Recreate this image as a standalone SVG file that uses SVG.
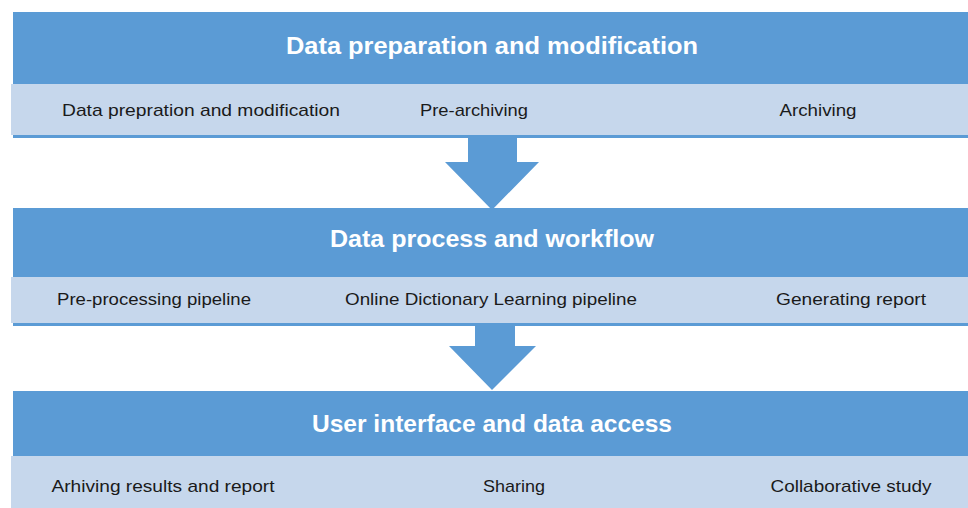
<svg xmlns="http://www.w3.org/2000/svg" width="968" height="508" viewBox="0 0 968 508">
<style>
.dark{fill:#5B9BD5}
.light{fill:#C6D7EC}
.line{fill:#5B9BD5}
.title{font-family:"Liberation Sans",Arial,sans-serif;font-weight:bold;font-size:24px;fill:#FFFFFF;text-anchor:middle}
.lbl{font-family:"Liberation Sans",Arial,sans-serif;font-size:17px;fill:#1a1a1a;text-anchor:middle}
.arrow{fill:#5B9BD5}
</style>
<rect width="968" height="508" fill="#FFFFFF"/>
<g id="stage1">
<rect class="dark" x="13" y="12" width="955" height="72"/>
<rect class="light" x="11" y="84" width="957" height="51"/>
<rect class="line" x="13" y="135" width="955" height="3"/>
<text class="title" x="492" y="54" textLength="412" lengthAdjust="spacingAndGlyphs">Data preparation and modification</text>
<text class="lbl" x="201" y="116" textLength="278" lengthAdjust="spacingAndGlyphs">Data prepration and modification</text>
<text class="lbl" x="474" y="116" textLength="108" lengthAdjust="spacingAndGlyphs">Pre-archiving</text>
<text class="lbl" x="818" y="116" textLength="77" lengthAdjust="spacingAndGlyphs">Archiving</text>
</g>
<g id="stage2">
<rect class="dark" x="13" y="208" width="955" height="69"/>
<rect class="light" x="11" y="277" width="957" height="46"/>
<rect class="line" x="13" y="323" width="955" height="3"/>
<text class="title" x="492" y="247" textLength="324" lengthAdjust="spacingAndGlyphs">Data process and workflow</text>
<text class="lbl" x="154" y="305" textLength="194" lengthAdjust="spacingAndGlyphs">Pre-processing pipeline</text>
<text class="lbl" x="491" y="305" textLength="292" lengthAdjust="spacingAndGlyphs">Online Dictionary Learning pipeline</text>
<text class="lbl" x="851" y="305" textLength="150" lengthAdjust="spacingAndGlyphs">Generating report</text>
</g>
<g id="stage3">
<rect class="dark" x="13" y="391" width="955" height="65"/>
<rect class="light" x="11" y="456" width="957" height="52"/>
<text class="title" x="492" y="432" textLength="360" lengthAdjust="spacingAndGlyphs">User interface and data access</text>
<text class="lbl" x="163" y="492" textLength="223" lengthAdjust="spacingAndGlyphs">Arhiving results and report</text>
<text class="lbl" x="514" y="492" textLength="62" lengthAdjust="spacingAndGlyphs">Sharing</text>
<text class="lbl" x="851" y="492" textLength="161" lengthAdjust="spacingAndGlyphs">Collaborative study</text>
</g>
<g id="connectors">
<polygon class="arrow" points="468,138 517,138 517,162 539,162 492,210 445,162 468,162"/>
<polygon class="arrow" points="475,326 515,326 515,346 536,346 492,390 449,346 475,346"/>
</g>
</svg>
